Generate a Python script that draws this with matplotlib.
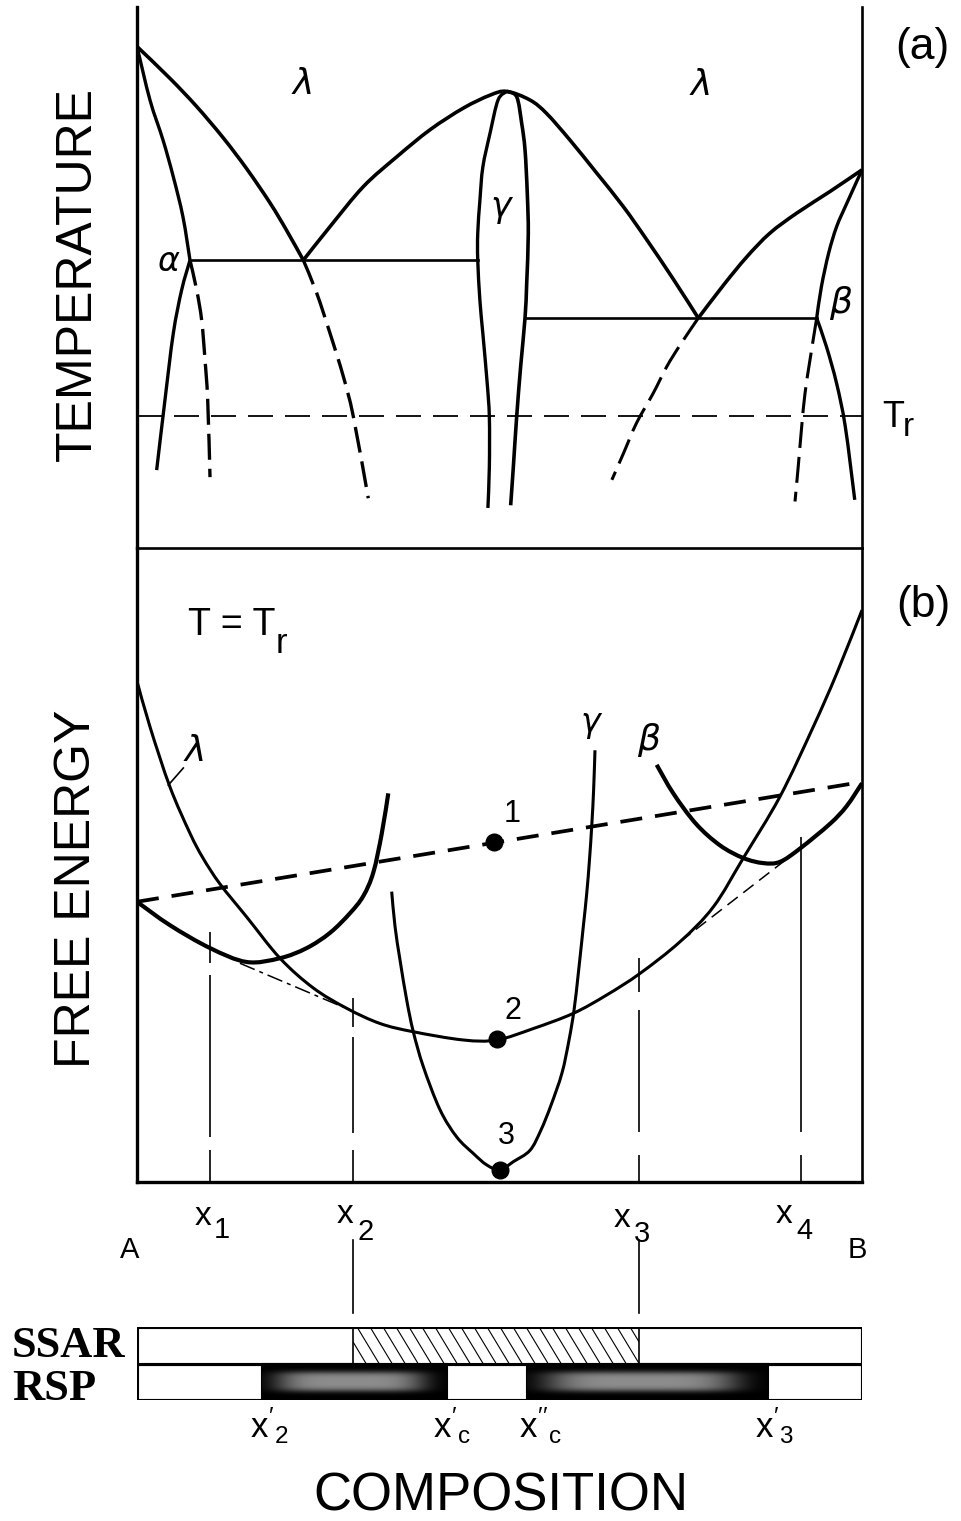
import numpy as np
import matplotlib
matplotlib.use("Agg")
import matplotlib.pyplot as plt
from matplotlib.path import Path
from matplotlib.patches import PathPatch

plt.rcParams['font.family'] = ['Liberation Sans', 'DejaVu Sans']
plt.rcParams['mathtext.fontset'] = 'custom'
plt.rcParams['mathtext.rm'] = 'Liberation Sans'
plt.rcParams['mathtext.it'] = 'Liberation Sans'
plt.rcParams['lines.scale_dashes'] = False

# ====================== DATA ======================
# (a) phase diagram: composition (% B) vs relative temperature (0..100)
liq_A_c = [0, 4.55, 8.23, 11.9, 15.13, 18.34, 20.64, 22.94]
liq_A_T = [92.7, 86.8, 81.6, 75.8, 70.1, 63.8, 58.7, 53.2]
liq_gamma_c = [22.94, 26.62, 31.22, 35.82, 40.41, 45.0, 48.69, 51.0,
               54.21, 56.51, 59.72, 63.41, 67.08, 70.3, 73.97, 77.42]
liq_gamma_T = [53.2, 59.4, 66.8, 72.3, 77.3, 81.3, 83.7, 84.4,
               82.8, 80.3, 75.4, 69.3, 63.1, 57.0, 49.7, 42.5]
liq_B_c = [77.42, 80.9, 84.1, 87.3, 91.0, 95.59, 100]
liq_B_T = [42.5, 48.6, 53.8, 58.2, 61.9, 65.9, 69.9]
alpha_solidus_c = [0, 1.79, 3.59, 5.01, 6.34, 7.31]
alpha_solidus_T = [92.7, 82.8, 75.4, 68.6, 61.2, 53.2]
alpha_solvus_c = [7.31, 6.16, 5.01, 3.86, 2.71]
alpha_solvus_T = [53.2, 47.7, 39.7, 27.4, 14.4]
alpha_meta_c = [7.31, 8.23, 8.92, 9.38, 9.75, 10.07]
alpha_meta_T = [53.2, 47.7, 42.1, 34.8, 27.4, 13.1]
liqA_meta_c = [22.94, 24.79, 26.62, 28.46, 29.84, 31.9]
liqA_meta_T = [53.2, 47.1, 39.7, 31.7, 24.3, 9.2]
gamma_left_c = [51.0, 49.8, 48.7, 47.7, 47.3, 47.0, 47.0, 47.3, 47.7, 48.3, 48.6, 48.6, 48.4]
gamma_left_T = [84.4, 82.8, 76.7, 70.4, 64.3, 58.2, 53.2, 45.7, 39.7, 30.5, 24.2, 15.0, 7.4]
gamma_right_c = [51.0, 52.37, 53.06, 53.52, 53.83, 53.97, 53.75, 53.52, 52.92, 52.37, 51.91, 51.54]
gamma_right_T = [84.4, 83.4, 78.5, 73.6, 65.6, 58.1, 48.9, 42.5, 33.6, 24.3, 15.0, 7.9]
beta_solidus_c = [93.75, 94.4, 95.4, 96.5, 97.9, 100]
beta_solidus_T = [42.5, 48.3, 54.5, 59.4, 63.7, 69.9]
beta_solvus_c = [93.75, 95.1, 96.5, 97.7, 99.0]
beta_solvus_T = [42.5, 37.2, 30.4, 22.4, 8.9]
beta_meta_c = [93.75, 92.83, 92.14, 91.68, 91.2, 90.76]
beta_meta_T = [42.5, 34.8, 28.6, 22.4, 15.0, 8.6]
liqB_meta_c = [77.42, 74.9, 73.06, 71.2, 68.9, 67.1, 65.5]
liqB_meta_T = [42.5, 37.5, 33.5, 28.6, 23.1, 17.5, 12.6]
eutectic1_c = [7.31, 47.0]
eutectic1_T = 53.2
eutectic2_c = [53.52, 93.75]
eutectic2_T = 42.5
T_r = 24.4

# (b) free energy curves at T = Tr (relative units 0..100)
G_lambda_c = [0, 1.79, 4.55, 7.31, 9.10, 11.45, 15.13, 19.72, 24.32, 28.92, 33.52, 38.11,
              45.0, 49.61, 54.66, 60.18, 64.79, 69.38, 74.9, 79.5, 83.63, 88.69, 93.28, 96.51, 100]
G_lambda = [79.0, 71.8, 62.3, 55.0, 51.1, 47.0, 41.8, 35.3, 30.6, 27.4, 25.0, 23.7,
            22.4, 22.4, 24.2, 26.6, 29.5, 32.9, 37.9, 43.4, 51.1, 60.8, 71.8, 80.2, 90.2]
G_alpha_c = [0, 4.55, 10.07, 15.13, 19.72, 23.41, 26.62, 29.38, 31.21, 32.59, 33.75, 34.66]
G_alpha = [44.2, 40.5, 36.9, 34.7, 35.3, 36.9, 39.3, 42.4, 45.1, 48.8, 54.9, 61.3]
G_gamma_c = [35.13, 35.59, 36.28, 37.2, 38.11, 39.49, 41.79, 44.1, 46.39, 48.23, 50.07,
             51.90, 54.21, 55.72, 57.10, 58.62, 59.59, 60.28, 60.87, 61.56, 62.03, 62.41,
             62.73, 62.98, 63.17]
G_gamma = [45.8, 40.3, 35.0, 28.7, 23.7, 18.2, 11.4, 7.1, 4.5, 2.7, 1.9,
           3.2, 5.0, 8.2, 12.1, 17.2, 22.4, 27.1, 32.9, 40.3, 45.5, 50.8,
           56.3, 61.8, 68.1]
G_beta_c = [71.68, 73.97, 77.1, 80.41, 83.63, 86.39, 88.69, 91.45, 95.59, 97.89, 100]
G_beta = [65.8, 61.3, 56.5, 53.1, 51.1, 50.3, 50.5, 52.6, 56.5, 59.3, 62.9]
tangent_AB_c = [0, 100]
tangent_AB_G = [44.2, 63.1]
tangent_al_c = [14.2, 28.4]
tangent_al_G = [34.5, 27.6]
tangent_lb_c = [74.9, 89.8]
tangent_lb_G = [37.9, 51.1]
point_c = [49.3, 49.6, 50.1]
point_G = [53.6, 22.6, 1.9]
point_labels = ['1', '2', '3']
x_marks = [10.07, 29.8, 69.24, 91.6]
x_marks_top = [39.4, 29.0, 35.3, 54.4]
x_mark_subs = ['1', '2', '3', '4']

# composition bars
ssar_start, ssar_end = 29.8, 69.24
rsp_start = [17.24, 53.79]
rsp_end = [42.76, 87.03]
rsp_labels = [r"$x'_2$", r"$x'_c$", r"$x''_c$", r"$x'_3$"]

# ====================== HELPERS ======================
def smooth(xs, ys):
    p = np.column_stack([xs, ys]).astype(float)
    n = len(p)
    verts = [p[0]]
    codes = [Path.MOVETO]
    for i in range(n - 1):
        p0 = p[i - 1] if i > 0 else p[i]
        p1, p2 = p[i], p[i + 1]
        p3 = p[i + 2] if i + 2 < n else p[i + 1]
        verts += [p1 + (p2 - p0) / 6.0, p2 - (p3 - p1) / 6.0, p2]
        codes += [Path.CURVE4] * 3
    return Path(verts, codes)


def curve(ax, xs, ys, lw=2.4, ls='-'):
    ax.add_patch(PathPatch(smooth(xs, ys), fill=False, lw=lw, ls=ls,
                           edgecolor='black', capstyle='butt', joinstyle='round'))


PX = 72.0 / 100.0  # points per pixel


def sub_text(ax, x, y, base, sub, fs, fs_sub, dx, dy):
    ax.text(x, y, base, fontsize=fs, ha='left', va='baseline', clip_on=False)
    ax.annotate(sub, xy=(x, y), xytext=(dx * PX, -dy * PX), textcoords='offset points',
                fontsize=fs_sub, ha='left', va='baseline', annotation_clip=False)


DASH_TOP = (0, (26 * PX, 9 * PX))

# ====================== FIGURE ======================
W, H = 961, 1521
fig = plt.figure(figsize=(W / 100, H / 100), dpi=100)
L, R = 137, 862


def axes_px(top, bottom):
    return fig.add_axes([L / W, 1 - bottom / H, (R - L) / W, (bottom - top) / H])


ax_top = axes_px(7, 548)
ax_bot = axes_px(548, 1182)
ax_bar = axes_px(1327, 1400)

for ax in (ax_top, ax_bot):
    ax.set_xlim(0, 100)
    ax.set_ylim(0, 100)
    ax.set_xticks([])
    ax.set_yticks([])
    ax.patch.set_alpha(0)
    for s in ax.spines.values():
        s.set_linewidth(2.4)

ax_top.spines['top'].set_visible(False)
ax_top.spines['bottom'].set_visible(False)
ax_bot.spines['top'].set_linewidth(1.9)
ax_top.spines['right'].set_linewidth(1.9)
ax_bot.spines['right'].set_linewidth(1.9)

# ---- (a) phase diagram ----
curve(ax_top, liq_A_c, liq_A_T, 2.6)
curve(ax_top, liq_gamma_c, liq_gamma_T, 2.6)
curve(ax_top, liq_B_c, liq_B_T, 2.6)
curve(ax_top, alpha_solidus_c, alpha_solidus_T, 2.4)
curve(ax_top, alpha_solvus_c, alpha_solvus_T, 2.4)
curve(ax_top, beta_solidus_c, beta_solidus_T, 2.4)
curve(ax_top, beta_solvus_c, beta_solvus_T, 2.4)
curve(ax_top, gamma_left_c, gamma_left_T, 2.4)
curve(ax_top, gamma_right_c, gamma_right_T, 2.6)
curve(ax_top, alpha_meta_c, alpha_meta_T, 2.4, DASH_TOP)
curve(ax_top, liqA_meta_c, liqA_meta_T, 2.4, DASH_TOP)
curve(ax_top, beta_meta_c, beta_meta_T, 2.2, DASH_TOP)
curve(ax_top, liqB_meta_c, liqB_meta_T, 2.2, DASH_TOP)
ax_top.plot(eutectic1_c, [eutectic1_T] * 2, color='black', lw=1.9)
ax_top.plot(eutectic2_c, [eutectic2_T] * 2, color='black', lw=1.9)
ax_top.plot([0, 100], [T_r, T_r], color='black', lw=1.3,
            ls=(0, (25 * PX, 12 * PX)))

greek = dict(family='DejaVu Sans', style='oblique', ha='center', va='center')
ax_top.text(22.9, 85.8, 'λ', fontsize=26, **greek)
ax_top.text(77.8, 85.6, 'λ', fontsize=26, **greek)
ax_top.text(4.28, 52.9, 'α', fontsize=24, **greek)
ax_top.text(50.2, 63.0, 'γ', fontsize=25, **greek)
ax_top.text(97.0, 45.3, 'β', fontsize=26, **greek)
sub_text(ax_top, 102.8, 22.4, 'T', 'r', 26, 24, 20, 9)
ax_top.text(108.3, 92.6, '(a)', fontsize=32, ha='center', va='center', clip_on=False)
ax_top.text(-8.2, 50.6, 'TEMPERATURE', fontsize=36, rotation=90,
            ha='center', va='center', clip_on=False)

# ---- (b) free energy ----
curve(ax_bot, G_lambda_c, G_lambda, 2.2)
curve(ax_bot, G_alpha_c, G_alpha, 3.0)
curve(ax_bot, G_gamma_c, G_gamma, 2.2)
curve(ax_bot, G_beta_c, G_beta, 3.0)
ax_bot.plot(tangent_AB_c, tangent_AB_G, color='black', lw=2.7,
            ls=(0, (22 * PX, 13 * PX)))
ax_bot.plot(tangent_al_c, tangent_al_G, color='black', lw=1.1,
            ls=(0, (16 * PX, 5 * PX, 4 * PX, 5 * PX)))
ax_bot.plot(tangent_lb_c, tangent_lb_G, color='black', lw=1.1,
            ls=(0, (13 * PX, 7 * PX)))
ax_bot.plot(point_c, point_G, 'o', color='black', ms=12)
for c, g, lab, dx, dy in zip(point_c, point_G, point_labels,
                             [2.4, 2.3, 0.9], [4.4, 4.4, 5.4]):
    ax_bot.text(c + dx, g + dy, lab, fontsize=22, ha='center', va='center')

# composition verticals (dash pattern from top to bottom, in pixels)
vpatterns = [(31, 12, 162, 13, 33, 80), (29, 10, 96, 17, 33, 80),
             (34, 18, 122, 23, 27, 80), (295, 23, 27, 80)]
for c, gtop, pat in zip(x_marks, x_marks_top, vpatterns):
    ax_bot.plot([c, c], [gtop, 0], color='black', lw=1.2,
                ls=(0, tuple(p * PX for p in pat)), solid_capstyle='butt')

ax_bot.text(62.6, 72.4, 'γ', fontsize=24, **greek)
ax_bot.text(70.6, 69.7, 'β', fontsize=26, **greek)
ax_bot.text(8.0, 68.0, 'λ', fontsize=26, **greek)
ax_bot.plot([4.32, 6.39], [62.6, 65.3], color='black', lw=1.2)
sub_text(ax_bot, 7.0, 86.3, 'T = T', 'r', 27, 25, 88, 18)
ax_bot.text(108.4, 91.0, '(b)', fontsize=32, ha='center', va='center', clip_on=False)
ax_bot.text(-8.3, 46.2, 'FREE ENERGY', fontsize=36, rotation=90,
            ha='center', va='center', clip_on=False)

# ---- composition bars ----
ax_bar.axis('off')
ax_bar.barh([0.5, 1.5], [100, 100], left=[0, 0], height=1, color='white',
            edgecolor='black', lw=2.2, zorder=1)
hatch_bar = ax_bar.barh([1.5], [ssar_end - ssar_start], left=[ssar_start], height=1,
                        color='white', edgecolor='black', lw=1.2, zorder=2)[0]
step = 13 / 7.25
run = 22 / 7.25
for x0 in np.arange(ssar_start - run, ssar_end + step, step):
    ln, = ax_bar.plot([x0, x0 + run], [2, 1], color='black', lw=0.8, zorder=3)
    ln.set_clip_path(hatch_bar)
ax_bar.barh([0.5] * 2, np.subtract(rsp_end, rsp_start), left=rsp_start, height=1,
            color='black', edgecolor='black', lw=1.5, zorder=2)
yy, xx = np.mgrid[-1:1:60j, -1:1:240j]
blob = 0.55 * np.exp(-(np.abs(xx + 0.05) / 0.8) ** 5 - (np.abs(yy) / 0.62) ** 4)
for s, e in zip(rsp_start, rsp_end):
    ax_bar.imshow(blob, cmap='gray', vmin=0, vmax=1, extent=(s, e, 0.06, 0.94),
                  aspect='auto', interpolation='bilinear', zorder=3)
ax_bar.plot([0, 100, 100, 0, 0], [0, 0, 2, 2, 0], color='black', lw=2.2, zorder=4)
ax_bar.plot([0, 100], [1, 1], color='black', lw=2.2, zorder=4)
ax_bar.set_xlim(0, 100)
ax_bar.set_ylim(0, 2)

# connector lines x2, x3 down toward the bar
for c in (x_marks[1], x_marks[2]):
    ax_bar.plot([c, c], [4.38, 2.38], color='black', lw=1.2, clip_on=False)

# composition labels under panel (b)
lab_start = [8.0, 27.59, 65.79, 88.14]
lab_base = [4.79, 4.85, 4.74, 4.85]
lab_dx = [19, 20, 20, 20]
lab_dy = [13, 17, 15, 16]
for s, b, sub, dx, dy in zip(lab_start, lab_base, x_mark_subs, lab_dx, lab_dy):
    sub_text(ax_bar, s, b, 'x', sub, 24, 21, dx, dy)
ax_bar.text(-0.97, 3.89, 'A', fontsize=21, ha='center', va='baseline', clip_on=False)
ax_bar.text(99.3, 3.89, 'B', fontsize=21, ha='center', va='baseline', clip_on=False)
rsp_lab_start = [15.59, 40.83, 52.69, 85.24]
for s, lab in zip(rsp_lab_start, rsp_labels):
    ax_bar.text(s, -1.04, lab, fontsize=25, ha='left', va='baseline', clip_on=False)

serif = dict(family='Liberation Serif', weight='bold', fontsize=32,
             ha='left', va='baseline', clip_on=False)
ax_bar.text(-17.24, 1.18, 'SSAR', **serif)
ax_bar.text(-17.24, 0.0, 'RSP', **serif)
ax_bar.text(50.2, -3.04, 'COMPOSITION', fontsize=38, ha='center', va='baseline',
            clip_on=False)

fig.savefig('out.png', dpi=100, facecolor='white')
